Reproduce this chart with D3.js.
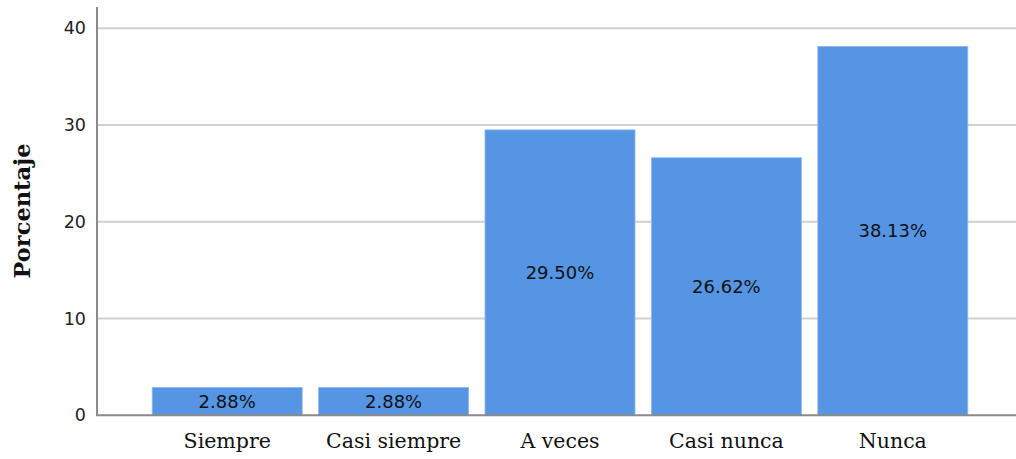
<!DOCTYPE html>
<html><head><meta charset="utf-8">
<script src="https://cdn.jsdelivr.net/npm/d3@7"></script>
<style>body{margin:0;background:#fff;}svg{display:block;}</style>
</head><body>
<script>
const categories = ["Siempre", "Casi siempre", "A veces", "Casi nunca", "Nunca"];
const values = [2.88, 2.88, 29.50, 26.62, 38.13];
const yTicks = [0, 10, 20, 30, 40];
const yTitle = "Porcentaje";

const W = 1016, H = 459;
const svg = d3.select("body").append("svg").attr("width", W).attr("height", H);

const axisX = 97, yBottom = 415.3, yTop40 = 28.3;
const y = d3.scaleLinear().domain([0, 40]).range([yBottom, yTop40]);
const x = d3.scaleBand().domain(categories).range([144, 976]).paddingInner(0.0986).paddingOuter(0.0493);

// gridlines
svg.append("g").selectAll("line").data(yTicks.filter(d => d > 0)).join("line")
  .attr("x1", axisX).attr("x2", W)
  .attr("y1", d => y(d)).attr("y2", d => y(d))
  .attr("stroke", "#d0d0d0").attr("stroke-width", 2);

// bars
svg.append("g").selectAll("rect").data(values).join("rect")
  .attr("x", (d, i) => x(categories[i]))
  .attr("width", x.bandwidth())
  .attr("y", d => y(d))
  .attr("height", d => y(0) - y(d))
  .attr("fill", "#5595e3")
  .attr("stroke", "#8fbaf0").attr("stroke-width", 0.8);

// value labels
svg.append("g").selectAll("text").data(values).join("text")
  .attr("x", (d, i) => x(categories[i]) + x.bandwidth() / 2)
  .attr("y", d => (y(d) + y(0)) / 2)
  .attr("dy", "0.35em")
  .attr("text-anchor", "middle")
  .attr("font-family", "DejaVu Sans")
  .attr("font-size", 18)
  .attr("fill", "#111")
  .text(d => d.toFixed(2) + "%");

// y axis
const yAxis = d3.axisLeft(y).tickValues(yTicks).tickSize(0).tickPadding(11);
const gy = svg.append("g").attr("transform", `translate(${axisX},0)`).call(yAxis);
gy.select(".domain").remove();
gy.selectAll("text").attr("font-family", "DejaVu Sans").attr("font-size", 17.5).attr("fill", "#222");
svg.append("line").attr("x1", axisX).attr("x2", axisX).attr("y1", 7).attr("y2", yBottom)
  .attr("stroke", "#8a8a8a").attr("stroke-width", 2);

// x axis
const xAxis = d3.axisBottom(x).tickSize(0).tickPadding(18);
const gx = svg.append("g").attr("transform", `translate(0,${yBottom})`).call(xAxis);
gx.select(".domain").remove();
gx.selectAll("text").attr("font-family", "DejaVu Serif").attr("font-size", 20.5).attr("fill", "#111");
svg.append("line").attr("x1", axisX - 1).attr("x2", W).attr("y1", yBottom).attr("y2", yBottom)
  .attr("stroke", "#8a8a8a").attr("stroke-width", 2);

// y title
svg.append("text")
  .attr("transform", `translate(30,211) rotate(-90)`)
  .attr("text-anchor", "middle")
  .attr("font-family", "DejaVu Serif").attr("font-weight", "bold")
  .attr("font-size", 22.5).attr("fill", "#111")
  .text(yTitle);
</script>
</body></html>
